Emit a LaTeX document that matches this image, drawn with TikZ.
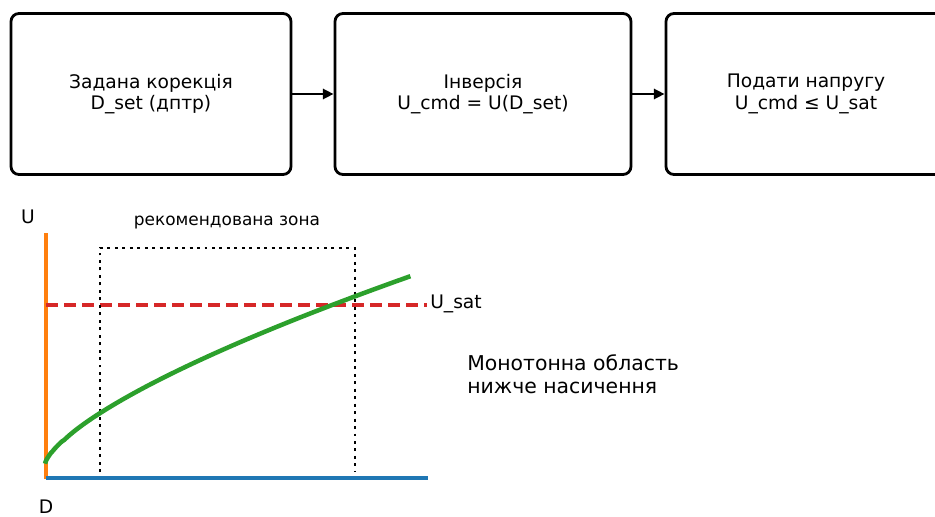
\documentclass[tikz,border=0pt]{standalone}
\usepackage{fontspec}
\setmainfont{DejaVu Sans}
\usepackage{xcolor}
\usetikzlibrary{arrows.meta}
\definecolor{mplorange}{HTML}{FF7F0E}
\definecolor{mplblue}{HTML}{1F77B4}
\definecolor{mplred}{HTML}{D62728}
\definecolor{mplgreen}{HTML}{2CA02C}

\begin{document}
\begin{tikzpicture}[x=0.75pt,y=-0.75pt,
    stage/.style={draw,line width=2.1pt,rounded corners=6pt,align=center,
      minimum height=120.75pt,inner sep=0pt,font=\fontsize{14}{16}\selectfont},
    flow/.style={line width=2.1pt,-{Triangle[length=8pt,width=7.5pt]}},
    lbl/.style={font=\fontsize{14}{16}\selectfont,inner sep=0pt}]
  \useasboundingbox (0,0) rectangle (935,517);
  \clip (0,0) rectangle (935,517);

  % processing chain
  \node (dset) [stage,minimum width=210pt] at (151,94) {Задана корекція\\D\_set (дптр)};
  \node (inv) [stage,minimum width=222pt] at (483,94) {Інверсія\\U\_cmd = U(D\_set)};
  \node (apply) [stage,minimum width=210pt] at (806,94) {Подати напругу\\U\_cmd ≤ U\_sat};
  \draw[flow] (dset) -- (inv);
  \draw[flow] (inv) -- (apply);

  % characteristic
  \draw[mplorange,line width=2.4pt] (46,479) -- (46,233);
  \draw[mplblue,line width=2.4pt] (46,478) -- (428,478);
  \draw[mplred,line width=2.4pt,dash pattern=on 9pt off 4.5pt] (46,305) -- (427,305);
  \draw[line width=2.2pt,dash pattern=on 2.2pt off 3.4pt] (100,472) -- (100,248) -- (355,248) -- (355,472);
  \draw[mplgreen,line width=3.4pt] plot[domain=0.002:1,samples=120]
    ({45+366*\x^1.45},{464-188*\x});

  \node (uax) [lbl] at (28,217) {U};
  \node (dax) [lbl] at (46,507) {D};
  \node (usat) [lbl,anchor=west] at (430,304) {U\_sat};
  \node (zone) [font=\fontsize{12.7}{15}\selectfont,inner sep=0pt] at (227,223) {рекомендована зона};
  \node (mono) [font=\fontsize{15.3}{17}\selectfont,inner sep=0pt,anchor=west,align=left] at (467,374)
    {Монотонна область\\нижче насичення};
\end{tikzpicture}
\end{document}
